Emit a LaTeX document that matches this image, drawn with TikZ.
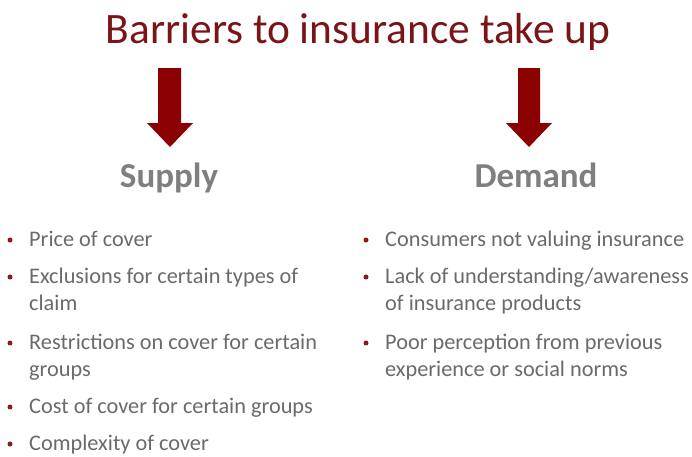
\documentclass[tikz,border=0pt]{standalone}
\usepackage{fontspec}
\setmainfont{Carlito}
\definecolor{titlered}{HTML}{7A1416}
\definecolor{arrowred}{HTML}{8B0000}
\definecolor{headgray}{HTML}{7F7F7F}
\definecolor{textgray}{HTML}{6A6A6A}
\definecolor{bulletred}{HTML}{8B1A1A}
\begin{document}
\begin{tikzpicture}[x=1pt,y=-1pt,
  titletext/.style={anchor=base,inner sep=0pt,text=titlered,font=\fontsize{43.4}{50}\selectfont},
  headtext/.style={anchor=base,inner sep=0pt,text=headgray,font=\fontsize{35}{40}\selectfont\bfseries},
  itemtext/.style={anchor=base west,inner sep=0pt,text=textgray,font=\fontsize{22.3}{27}\selectfont},
  bulletdot/.style={circle,fill=bulletred,inner sep=0pt,minimum size=5pt},
  bigarrow/.style={fill=arrowred,draw=none}]
\path[use as bounding box] (0,0) rectangle (692,456);
\node[titletext] (title) at (358,43) {Barriers to insurance take up};
% arrows
\fill[bigarrow] (158,68) -- (181,68) -- (181,123) -- (193,123) -- (170,147) -- (147,123) -- (158,123) -- cycle;
\fill[bigarrow] (518,68) -- (540,68) -- (540,123) -- (552,123) -- (529,147) -- (506,123) -- (518,123) -- cycle;
\node[headtext] (supply) at (169,187) {Supply};
\node[headtext] (demand) at (536,187) {Demand};
% supply items
\node[bulletdot] (b1) at (10,240) {};
\node[itemtext] (s1) at (29,246) {Price of cover};
\node[bulletdot] (b2) at (10,277) {};
\node[itemtext] (s2a) at (29,283) {Exclusions for certain types of};
\node[itemtext] (s2b) at (29,310) {claim};
\node[bulletdot] (b3) at (10,343) {};
\node[itemtext] (s3a) at (29,349) {Restrictions on cover for certain};
\node[itemtext] (s3b) at (29,376) {groups};
\node[bulletdot] (b4) at (10,407) {};
\node[itemtext] (s4) at (29,413) {Cost of cover for certain groups};
\node[bulletdot] (b5) at (10,444) {};
\node[itemtext] (s5) at (29,450) {Complexity of cover};
% demand items
\node[bulletdot] (d1b) at (366,240) {};
\node[itemtext] (d1) at (385,246) {Consumers not valuing insurance};
\node[bulletdot] (d2b) at (366,277) {};
\node[itemtext] (d2a) at (385,283) {Lack of understanding/awareness};
\node[itemtext] (d2b) at (385,310) {of insurance products};
\node[bulletdot] (d3b) at (366,343) {};
\node[itemtext] (d3a) at (385,349) {Poor perception from previous};
\node[itemtext] (d3b) at (385,376) {experience or social norms};
\end{tikzpicture}
\end{document}
